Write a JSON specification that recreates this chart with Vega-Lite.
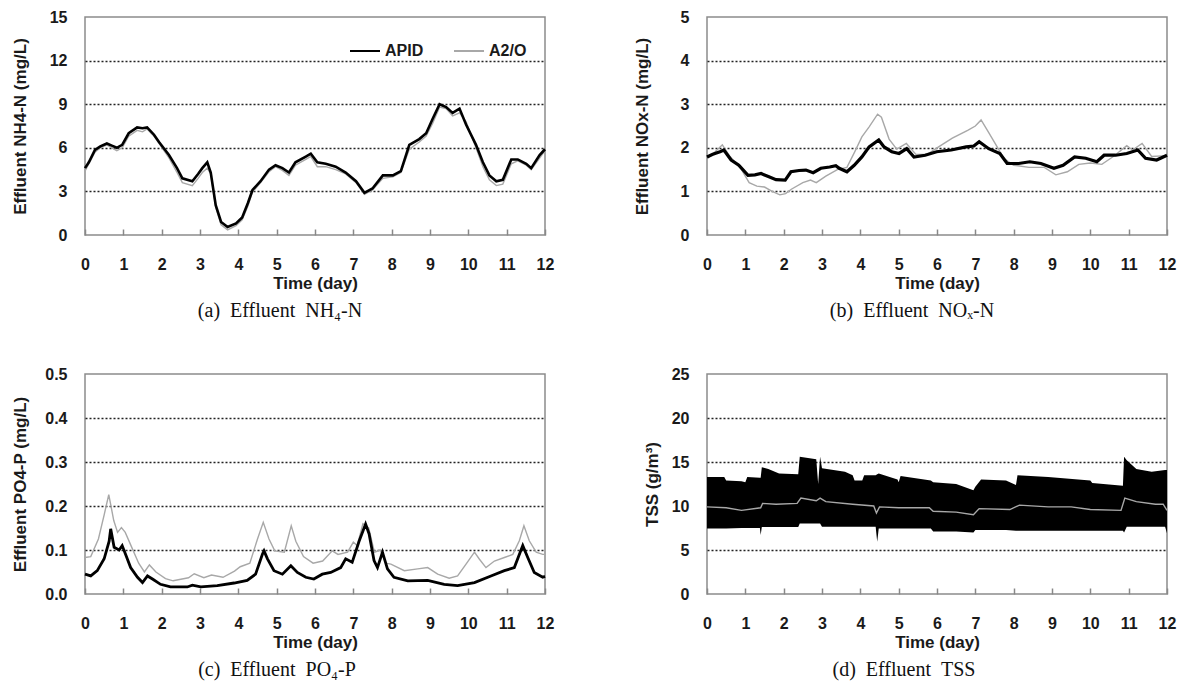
{
  "$schema": "https://vega.github.io/schema/vega-lite/v6.json",
  "background": "white",
  "padding": {"left": 10, "top": 8, "right": 5, "bottom": 5},
  "config": {
    "font": "Liberation Sans",
    "view": {"stroke": "#8c8c8c", "strokeWidth": 1.5},
    "axis": {
      "labelFont": "Liberation Sans", "labelFontSize": 16, "labelFontWeight": "bold", "labelColor": "#1a1a1a",
      "titleFont": "Liberation Sans", "titleFontSize": 17, "titleFontWeight": "bold", "titleColor": "#1a1a1a",
      "domain": false, "gridColor": "#222222", "gridDash": [2, 2], "gridWidth": 1.3, "labelFlush": false, "labelOverlap": false
    },
    "axisX": {"grid": false, "tickSize": -6, "tickColor": "#888888", "tickWidth": 1.5, "labelPadding": 27, "titlePadding": 3, "labelAngle": 0},
    "axisY": {"ticks": false, "labelPadding": 18, "titleX": -60, "titleBaseline": "alphabetic"},
    "title": {"orient": "bottom", "font": "Liberation Serif", "fontSize": 20, "fontWeight": "normal", "color": "#111111", "anchor": "middle", "offset": 10}
  },
  "datasets": {
    "nh4": [
      {"day": 0, "v": 4.6, "s": "APID"}, {"day": 0.1, "v": 5.0, "s": "APID"}, {"day": 0.26, "v": 5.85, "s": "APID"}, {"day": 0.4, "v": 6.1, "s": "APID"},
      {"day": 0.57, "v": 6.3, "s": "APID"}, {"day": 0.7, "v": 6.15, "s": "APID"}, {"day": 0.83, "v": 6.0, "s": "APID"}, {"day": 0.97, "v": 6.2, "s": "APID"},
      {"day": 1.14, "v": 7.0, "s": "APID"}, {"day": 1.36, "v": 7.4, "s": "APID"}, {"day": 1.5, "v": 7.35, "s": "APID"}, {"day": 1.62, "v": 7.4, "s": "APID"},
      {"day": 1.8, "v": 6.9, "s": "APID"}, {"day": 1.93, "v": 6.4, "s": "APID"}, {"day": 2.19, "v": 5.5, "s": "APID"}, {"day": 2.4, "v": 4.6, "s": "APID"},
      {"day": 2.54, "v": 3.9, "s": "APID"}, {"day": 2.8, "v": 3.7, "s": "APID"}, {"day": 2.95, "v": 4.2, "s": "APID"}, {"day": 3.06, "v": 4.6, "s": "APID"},
      {"day": 3.19, "v": 5.0, "s": "APID"}, {"day": 3.28, "v": 4.3, "s": "APID"}, {"day": 3.41, "v": 2.05, "s": "APID"}, {"day": 3.55, "v": 0.9, "s": "APID"},
      {"day": 3.72, "v": 0.55, "s": "APID"}, {"day": 3.94, "v": 0.8, "s": "APID"}, {"day": 4.1, "v": 1.2, "s": "APID"}, {"day": 4.25, "v": 2.2, "s": "APID"},
      {"day": 4.37, "v": 3.1, "s": "APID"}, {"day": 4.58, "v": 3.7, "s": "APID"}, {"day": 4.8, "v": 4.5, "s": "APID"}, {"day": 4.97, "v": 4.8, "s": "APID"},
      {"day": 5.15, "v": 4.6, "s": "APID"}, {"day": 5.32, "v": 4.3, "s": "APID"}, {"day": 5.49, "v": 5.0, "s": "APID"}, {"day": 5.76, "v": 5.4, "s": "APID"},
      {"day": 5.89, "v": 5.6, "s": "APID"}, {"day": 6.06, "v": 5.0, "s": "APID"}, {"day": 6.28, "v": 4.9, "s": "APID"}, {"day": 6.54, "v": 4.7, "s": "APID"},
      {"day": 6.8, "v": 4.3, "s": "APID"}, {"day": 7.07, "v": 3.7, "s": "APID"}, {"day": 7.29, "v": 2.9, "s": "APID"}, {"day": 7.5, "v": 3.2, "s": "APID"},
      {"day": 7.77, "v": 4.1, "s": "APID"}, {"day": 8.03, "v": 4.1, "s": "APID"}, {"day": 8.24, "v": 4.4, "s": "APID"}, {"day": 8.46, "v": 6.2, "s": "APID"},
      {"day": 8.72, "v": 6.6, "s": "APID"}, {"day": 8.9, "v": 7.0, "s": "APID"}, {"day": 9.07, "v": 8.0, "s": "APID"}, {"day": 9.25, "v": 9.0, "s": "APID"},
      {"day": 9.42, "v": 8.8, "s": "APID"}, {"day": 9.59, "v": 8.4, "s": "APID"}, {"day": 9.77, "v": 8.7, "s": "APID"}, {"day": 9.94, "v": 7.6, "s": "APID"},
      {"day": 10.2, "v": 6.2, "s": "APID"}, {"day": 10.38, "v": 5.0, "s": "APID"}, {"day": 10.55, "v": 4.1, "s": "APID"}, {"day": 10.73, "v": 3.7, "s": "APID"},
      {"day": 10.9, "v": 3.8, "s": "APID"}, {"day": 11.12, "v": 5.2, "s": "APID"}, {"day": 11.29, "v": 5.2, "s": "APID"}, {"day": 11.51, "v": 4.9, "s": "APID"},
      {"day": 11.64, "v": 4.6, "s": "APID"}, {"day": 11.86, "v": 5.5, "s": "APID"}, {"day": 12, "v": 5.9, "s": "APID"},
      {"day": 0, "v": 4.4, "s": "A2/O"}, {"day": 0.1, "v": 4.9, "s": "A2/O"}, {"day": 0.26, "v": 5.7, "s": "A2/O"}, {"day": 0.4, "v": 6.0, "s": "A2/O"},
      {"day": 0.57, "v": 6.2, "s": "A2/O"}, {"day": 0.7, "v": 6.0, "s": "A2/O"}, {"day": 0.83, "v": 5.8, "s": "A2/O"}, {"day": 0.97, "v": 6.0, "s": "A2/O"},
      {"day": 1.14, "v": 6.8, "s": "A2/O"}, {"day": 1.36, "v": 7.2, "s": "A2/O"}, {"day": 1.5, "v": 7.1, "s": "A2/O"}, {"day": 1.62, "v": 7.3, "s": "A2/O"},
      {"day": 1.8, "v": 6.8, "s": "A2/O"}, {"day": 1.93, "v": 6.3, "s": "A2/O"}, {"day": 2.19, "v": 5.3, "s": "A2/O"}, {"day": 2.4, "v": 4.3, "s": "A2/O"},
      {"day": 2.54, "v": 3.6, "s": "A2/O"}, {"day": 2.8, "v": 3.4, "s": "A2/O"}, {"day": 2.95, "v": 3.9, "s": "A2/O"}, {"day": 3.06, "v": 4.3, "s": "A2/O"},
      {"day": 3.19, "v": 4.6, "s": "A2/O"}, {"day": 3.28, "v": 4.2, "s": "A2/O"}, {"day": 3.41, "v": 1.9, "s": "A2/O"}, {"day": 3.55, "v": 0.7, "s": "A2/O"},
      {"day": 3.72, "v": 0.35, "s": "A2/O"}, {"day": 3.94, "v": 0.65, "s": "A2/O"}, {"day": 4.1, "v": 1.05, "s": "A2/O"}, {"day": 4.25, "v": 2.0, "s": "A2/O"},
      {"day": 4.37, "v": 2.95, "s": "A2/O"}, {"day": 4.58, "v": 3.6, "s": "A2/O"}, {"day": 4.8, "v": 4.35, "s": "A2/O"}, {"day": 4.97, "v": 4.7, "s": "A2/O"},
      {"day": 5.15, "v": 4.45, "s": "A2/O"}, {"day": 5.32, "v": 4.1, "s": "A2/O"}, {"day": 5.49, "v": 4.8, "s": "A2/O"}, {"day": 5.76, "v": 5.2, "s": "A2/O"},
      {"day": 5.89, "v": 5.4, "s": "A2/O"}, {"day": 6.06, "v": 4.7, "s": "A2/O"}, {"day": 6.28, "v": 4.7, "s": "A2/O"}, {"day": 6.54, "v": 4.5, "s": "A2/O"},
      {"day": 6.8, "v": 4.2, "s": "A2/O"}, {"day": 7.07, "v": 3.6, "s": "A2/O"}, {"day": 7.29, "v": 2.8, "s": "A2/O"}, {"day": 7.5, "v": 3.1, "s": "A2/O"},
      {"day": 7.77, "v": 3.9, "s": "A2/O"}, {"day": 8.03, "v": 4.0, "s": "A2/O"}, {"day": 8.24, "v": 4.3, "s": "A2/O"}, {"day": 8.46, "v": 5.9, "s": "A2/O"},
      {"day": 8.72, "v": 6.4, "s": "A2/O"}, {"day": 8.9, "v": 6.8, "s": "A2/O"}, {"day": 9.07, "v": 7.7, "s": "A2/O"}, {"day": 9.25, "v": 8.8, "s": "A2/O"},
      {"day": 9.42, "v": 8.7, "s": "A2/O"}, {"day": 9.59, "v": 8.2, "s": "A2/O"}, {"day": 9.77, "v": 8.4, "s": "A2/O"}, {"day": 9.94, "v": 7.8, "s": "A2/O"},
      {"day": 10.2, "v": 6.0, "s": "A2/O"}, {"day": 10.38, "v": 4.7, "s": "A2/O"}, {"day": 10.55, "v": 3.8, "s": "A2/O"}, {"day": 10.73, "v": 3.4, "s": "A2/O"},
      {"day": 10.9, "v": 3.5, "s": "A2/O"}, {"day": 11.12, "v": 4.9, "s": "A2/O"}, {"day": 11.29, "v": 5.1, "s": "A2/O"}, {"day": 11.51, "v": 4.8, "s": "A2/O"},
      {"day": 11.64, "v": 4.5, "s": "A2/O"}, {"day": 11.86, "v": 5.3, "s": "A2/O"}, {"day": 12, "v": 5.8, "s": "A2/O"}
    ],
    "nox": [
      {"day": 0, "v": 1.79, "s": "APID"}, {"day": 0.15, "v": 1.85, "s": "APID"}, {"day": 0.34, "v": 1.91, "s": "APID"}, {"day": 0.44, "v": 1.95, "s": "APID"},
      {"day": 0.63, "v": 1.72, "s": "APID"}, {"day": 0.83, "v": 1.6, "s": "APID"}, {"day": 1.07, "v": 1.37, "s": "APID"}, {"day": 1.25, "v": 1.38, "s": "APID"},
      {"day": 1.41, "v": 1.41, "s": "APID"}, {"day": 1.6, "v": 1.34, "s": "APID"}, {"day": 1.8, "v": 1.27, "s": "APID"}, {"day": 2.04, "v": 1.26, "s": "APID"},
      {"day": 2.19, "v": 1.45, "s": "APID"}, {"day": 2.4, "v": 1.48, "s": "APID"}, {"day": 2.58, "v": 1.49, "s": "APID"}, {"day": 2.77, "v": 1.43, "s": "APID"},
      {"day": 2.97, "v": 1.53, "s": "APID"}, {"day": 3.2, "v": 1.56, "s": "APID"}, {"day": 3.36, "v": 1.59, "s": "APID"}, {"day": 3.45, "v": 1.53, "s": "APID"},
      {"day": 3.65, "v": 1.45, "s": "APID"}, {"day": 3.84, "v": 1.6, "s": "APID"}, {"day": 4.04, "v": 1.79, "s": "APID"}, {"day": 4.23, "v": 2.02, "s": "APID"},
      {"day": 4.48, "v": 2.18, "s": "APID"}, {"day": 4.62, "v": 2.02, "s": "APID"}, {"day": 4.82, "v": 1.91, "s": "APID"}, {"day": 5.01, "v": 1.87, "s": "APID"},
      {"day": 5.21, "v": 1.98, "s": "APID"}, {"day": 5.4, "v": 1.79, "s": "APID"}, {"day": 5.69, "v": 1.83, "s": "APID"}, {"day": 5.99, "v": 1.91, "s": "APID"},
      {"day": 6.37, "v": 1.95, "s": "APID"}, {"day": 6.76, "v": 2.02, "s": "APID"}, {"day": 6.96, "v": 2.04, "s": "APID"}, {"day": 7.1, "v": 2.14, "s": "APID"},
      {"day": 7.35, "v": 1.98, "s": "APID"}, {"day": 7.64, "v": 1.87, "s": "APID"}, {"day": 7.83, "v": 1.64, "s": "APID"}, {"day": 8.13, "v": 1.64, "s": "APID"},
      {"day": 8.42, "v": 1.68, "s": "APID"}, {"day": 8.71, "v": 1.64, "s": "APID"}, {"day": 9.05, "v": 1.53, "s": "APID"}, {"day": 9.29, "v": 1.6, "s": "APID"},
      {"day": 9.59, "v": 1.79, "s": "APID"}, {"day": 9.88, "v": 1.76, "s": "APID"}, {"day": 10.17, "v": 1.68, "s": "APID"}, {"day": 10.36, "v": 1.83, "s": "APID"},
      {"day": 10.66, "v": 1.83, "s": "APID"}, {"day": 10.95, "v": 1.87, "s": "APID"}, {"day": 11.24, "v": 1.95, "s": "APID"}, {"day": 11.44, "v": 1.76, "s": "APID"},
      {"day": 11.73, "v": 1.72, "s": "APID"}, {"day": 12, "v": 1.83, "s": "APID"},
      {"day": 0, "v": 1.75, "s": "A2/O"}, {"day": 0.2, "v": 1.9, "s": "A2/O"}, {"day": 0.4, "v": 2.07, "s": "A2/O"}, {"day": 0.6, "v": 1.8, "s": "A2/O"},
      {"day": 0.9, "v": 1.5, "s": "A2/O"}, {"day": 1.1, "v": 1.2, "s": "A2/O"}, {"day": 1.3, "v": 1.12, "s": "A2/O"}, {"day": 1.5, "v": 1.1, "s": "A2/O"},
      {"day": 1.7, "v": 1.0, "s": "A2/O"}, {"day": 1.9, "v": 0.92, "s": "A2/O"}, {"day": 2.05, "v": 0.95, "s": "A2/O"}, {"day": 2.2, "v": 1.05, "s": "A2/O"},
      {"day": 2.5, "v": 1.2, "s": "A2/O"}, {"day": 2.7, "v": 1.26, "s": "A2/O"}, {"day": 2.85, "v": 1.2, "s": "A2/O"}, {"day": 3.1, "v": 1.35, "s": "A2/O"},
      {"day": 3.4, "v": 1.5, "s": "A2/O"}, {"day": 3.65, "v": 1.55, "s": "A2/O"}, {"day": 3.85, "v": 1.9, "s": "A2/O"}, {"day": 4.04, "v": 2.25, "s": "A2/O"},
      {"day": 4.23, "v": 2.48, "s": "A2/O"}, {"day": 4.45, "v": 2.77, "s": "A2/O"}, {"day": 4.55, "v": 2.7, "s": "A2/O"}, {"day": 4.75, "v": 2.2, "s": "A2/O"},
      {"day": 4.95, "v": 1.97, "s": "A2/O"}, {"day": 5.2, "v": 2.1, "s": "A2/O"}, {"day": 5.45, "v": 1.85, "s": "A2/O"}, {"day": 5.75, "v": 1.85, "s": "A2/O"},
      {"day": 6.0, "v": 2.0, "s": "A2/O"}, {"day": 6.4, "v": 2.22, "s": "A2/O"}, {"day": 6.8, "v": 2.4, "s": "A2/O"}, {"day": 7.0, "v": 2.5, "s": "A2/O"},
      {"day": 7.15, "v": 2.64, "s": "A2/O"}, {"day": 7.35, "v": 2.35, "s": "A2/O"}, {"day": 7.55, "v": 2.05, "s": "A2/O"}, {"day": 7.75, "v": 1.75, "s": "A2/O"},
      {"day": 8.0, "v": 1.6, "s": "A2/O"}, {"day": 8.4, "v": 1.55, "s": "A2/O"}, {"day": 8.8, "v": 1.55, "s": "A2/O"}, {"day": 9.1, "v": 1.38, "s": "A2/O"},
      {"day": 9.4, "v": 1.45, "s": "A2/O"}, {"day": 9.7, "v": 1.62, "s": "A2/O"}, {"day": 10.0, "v": 1.65, "s": "A2/O"}, {"day": 10.3, "v": 1.62, "s": "A2/O"},
      {"day": 10.6, "v": 1.8, "s": "A2/O"}, {"day": 10.95, "v": 2.05, "s": "A2/O"}, {"day": 11.1, "v": 1.95, "s": "A2/O"}, {"day": 11.35, "v": 2.1, "s": "A2/O"},
      {"day": 11.6, "v": 1.8, "s": "A2/O"}, {"day": 12, "v": 1.82, "s": "A2/O"}
    ],
    "po4": [
      {"day": 0, "v": 0.045, "s": "APID"}, {"day": 0.15, "v": 0.041, "s": "APID"}, {"day": 0.32, "v": 0.053, "s": "APID"}, {"day": 0.5, "v": 0.08, "s": "APID"},
      {"day": 0.63, "v": 0.12, "s": "APID"}, {"day": 0.67, "v": 0.148, "s": "APID"}, {"day": 0.76, "v": 0.106, "s": "APID"}, {"day": 0.89, "v": 0.1, "s": "APID"},
      {"day": 0.97, "v": 0.11, "s": "APID"}, {"day": 1.06, "v": 0.09, "s": "APID"}, {"day": 1.19, "v": 0.06, "s": "APID"}, {"day": 1.37, "v": 0.038, "s": "APID"},
      {"day": 1.5, "v": 0.026, "s": "APID"}, {"day": 1.63, "v": 0.041, "s": "APID"}, {"day": 1.76, "v": 0.034, "s": "APID"}, {"day": 1.97, "v": 0.022, "s": "APID"},
      {"day": 2.23, "v": 0.016, "s": "APID"}, {"day": 2.67, "v": 0.016, "s": "APID"}, {"day": 2.8, "v": 0.02, "s": "APID"}, {"day": 3.02, "v": 0.016, "s": "APID"},
      {"day": 3.45, "v": 0.019, "s": "APID"}, {"day": 3.89, "v": 0.025, "s": "APID"}, {"day": 4.23, "v": 0.031, "s": "APID"}, {"day": 4.45, "v": 0.045, "s": "APID"},
      {"day": 4.63, "v": 0.091, "s": "APID"}, {"day": 4.67, "v": 0.098, "s": "APID"}, {"day": 4.76, "v": 0.08, "s": "APID"}, {"day": 4.93, "v": 0.053, "s": "APID"},
      {"day": 5.15, "v": 0.045, "s": "APID"}, {"day": 5.37, "v": 0.064, "s": "APID"}, {"day": 5.54, "v": 0.049, "s": "APID"}, {"day": 5.76, "v": 0.038, "s": "APID"},
      {"day": 5.97, "v": 0.034, "s": "APID"}, {"day": 6.19, "v": 0.045, "s": "APID"}, {"day": 6.41, "v": 0.049, "s": "APID"}, {"day": 6.67, "v": 0.06, "s": "APID"},
      {"day": 6.8, "v": 0.08, "s": "APID"}, {"day": 6.97, "v": 0.072, "s": "APID"}, {"day": 7.15, "v": 0.12, "s": "APID"}, {"day": 7.32, "v": 0.159, "s": "APID"},
      {"day": 7.41, "v": 0.137, "s": "APID"}, {"day": 7.54, "v": 0.076, "s": "APID"}, {"day": 7.63, "v": 0.06, "s": "APID"}, {"day": 7.76, "v": 0.095, "s": "APID"},
      {"day": 7.89, "v": 0.057, "s": "APID"}, {"day": 8.06, "v": 0.038, "s": "APID"}, {"day": 8.42, "v": 0.03, "s": "APID"}, {"day": 8.94, "v": 0.031, "s": "APID"},
      {"day": 9.37, "v": 0.022, "s": "APID"}, {"day": 9.72, "v": 0.019, "s": "APID"}, {"day": 10.16, "v": 0.026, "s": "APID"}, {"day": 10.59, "v": 0.041, "s": "APID"},
      {"day": 10.94, "v": 0.053, "s": "APID"}, {"day": 11.2, "v": 0.06, "s": "APID"}, {"day": 11.42, "v": 0.11, "s": "APID"}, {"day": 11.55, "v": 0.083, "s": "APID"},
      {"day": 11.72, "v": 0.049, "s": "APID"}, {"day": 11.94, "v": 0.038, "s": "APID"}, {"day": 12, "v": 0.04, "s": "APID"},
      {"day": 0, "v": 0.083, "s": "A2/O"}, {"day": 0.15, "v": 0.085, "s": "A2/O"}, {"day": 0.35, "v": 0.125, "s": "A2/O"}, {"day": 0.5, "v": 0.18, "s": "A2/O"},
      {"day": 0.62, "v": 0.226, "s": "A2/O"}, {"day": 0.75, "v": 0.167, "s": "A2/O"}, {"day": 0.85, "v": 0.14, "s": "A2/O"}, {"day": 0.95, "v": 0.151, "s": "A2/O"},
      {"day": 1.05, "v": 0.14, "s": "A2/O"}, {"day": 1.2, "v": 0.11, "s": "A2/O"}, {"day": 1.4, "v": 0.07, "s": "A2/O"}, {"day": 1.55, "v": 0.05, "s": "A2/O"},
      {"day": 1.68, "v": 0.066, "s": "A2/O"}, {"day": 1.85, "v": 0.05, "s": "A2/O"}, {"day": 2.1, "v": 0.035, "s": "A2/O"}, {"day": 2.3, "v": 0.03, "s": "A2/O"},
      {"day": 2.7, "v": 0.037, "s": "A2/O"}, {"day": 2.85, "v": 0.046, "s": "A2/O"}, {"day": 3.1, "v": 0.037, "s": "A2/O"}, {"day": 3.3, "v": 0.043, "s": "A2/O"},
      {"day": 3.6, "v": 0.038, "s": "A2/O"}, {"day": 3.9, "v": 0.052, "s": "A2/O"}, {"day": 4.05, "v": 0.062, "s": "A2/O"}, {"day": 4.3, "v": 0.07, "s": "A2/O"},
      {"day": 4.5, "v": 0.125, "s": "A2/O"}, {"day": 4.65, "v": 0.163, "s": "A2/O"}, {"day": 4.8, "v": 0.125, "s": "A2/O"}, {"day": 4.95, "v": 0.098, "s": "A2/O"},
      {"day": 5.2, "v": 0.095, "s": "A2/O"}, {"day": 5.38, "v": 0.155, "s": "A2/O"}, {"day": 5.5, "v": 0.12, "s": "A2/O"}, {"day": 5.7, "v": 0.085, "s": "A2/O"},
      {"day": 5.95, "v": 0.07, "s": "A2/O"}, {"day": 6.2, "v": 0.075, "s": "A2/O"}, {"day": 6.45, "v": 0.098, "s": "A2/O"}, {"day": 6.6, "v": 0.09, "s": "A2/O"},
      {"day": 6.85, "v": 0.095, "s": "A2/O"}, {"day": 7.0, "v": 0.118, "s": "A2/O"}, {"day": 7.1, "v": 0.11, "s": "A2/O"}, {"day": 7.25, "v": 0.16, "s": "A2/O"},
      {"day": 7.4, "v": 0.15, "s": "A2/O"}, {"day": 7.55, "v": 0.095, "s": "A2/O"}, {"day": 7.7, "v": 0.1, "s": "A2/O"}, {"day": 7.85, "v": 0.07, "s": "A2/O"},
      {"day": 7.98, "v": 0.068, "s": "A2/O"}, {"day": 8.33, "v": 0.053, "s": "A2/O"}, {"day": 8.68, "v": 0.057, "s": "A2/O"}, {"day": 8.94, "v": 0.06, "s": "A2/O"},
      {"day": 9.2, "v": 0.045, "s": "A2/O"}, {"day": 9.5, "v": 0.036, "s": "A2/O"}, {"day": 9.72, "v": 0.041, "s": "A2/O"}, {"day": 9.94, "v": 0.068, "s": "A2/O"},
      {"day": 10.16, "v": 0.095, "s": "A2/O"}, {"day": 10.29, "v": 0.079, "s": "A2/O"}, {"day": 10.46, "v": 0.06, "s": "A2/O"}, {"day": 10.68, "v": 0.075, "s": "A2/O"},
      {"day": 10.94, "v": 0.083, "s": "A2/O"}, {"day": 11.16, "v": 0.09, "s": "A2/O"}, {"day": 11.33, "v": 0.121, "s": "A2/O"}, {"day": 11.45, "v": 0.155, "s": "A2/O"},
      {"day": 11.59, "v": 0.121, "s": "A2/O"}, {"day": 11.77, "v": 0.095, "s": "A2/O"}, {"day": 11.94, "v": 0.09, "s": "A2/O"}, {"day": 12, "v": 0.09, "s": "A2/O"}
    ],
    "tssband": [
      {"day": 0, "lo": 7.45, "hi": 13.3}, {"day": 0.45, "lo": 7.45, "hi": 13.3}, {"day": 0.5, "lo": 7.45, "hi": 12.9}, {"day": 0.9, "lo": 7.5, "hi": 12.8},
      {"day": 1.0, "lo": 7.5, "hi": 12.7}, {"day": 1.05, "lo": 7.5, "hi": 13.3}, {"day": 1.38, "lo": 7.5, "hi": 13.2}, {"day": 1.4, "lo": 6.7, "hi": 13.2},
      {"day": 1.43, "lo": 7.6, "hi": 14.4}, {"day": 1.6, "lo": 7.6, "hi": 14.2}, {"day": 1.88, "lo": 7.6, "hi": 13.7}, {"day": 2.38, "lo": 7.6, "hi": 13.6},
      {"day": 2.42, "lo": 8.0, "hi": 15.6}, {"day": 2.85, "lo": 8.0, "hi": 15.3}, {"day": 2.9, "lo": 8.0, "hi": 12.5}, {"day": 2.95, "lo": 8.0, "hi": 15.6},
      {"day": 3.0, "lo": 7.65, "hi": 14.3}, {"day": 3.6, "lo": 7.65, "hi": 13.9}, {"day": 3.8, "lo": 7.65, "hi": 13.5}, {"day": 3.85, "lo": 7.65, "hi": 12.9},
      {"day": 4.05, "lo": 7.65, "hi": 12.9}, {"day": 4.1, "lo": 7.65, "hi": 13.5}, {"day": 4.4, "lo": 7.65, "hi": 13.5}, {"day": 4.44, "lo": 5.95, "hi": 13.6},
      {"day": 4.48, "lo": 7.45, "hi": 13.7}, {"day": 4.97, "lo": 7.45, "hi": 13.0}, {"day": 5.0, "lo": 7.45, "hi": 12.7}, {"day": 5.05, "lo": 7.45, "hi": 13.4},
      {"day": 5.84, "lo": 7.45, "hi": 12.9}, {"day": 5.9, "lo": 7.1, "hi": 12.7}, {"day": 6.5, "lo": 7.1, "hi": 12.5}, {"day": 6.95, "lo": 7.0, "hi": 11.8},
      {"day": 7.0, "lo": 7.26, "hi": 12.2}, {"day": 7.15, "lo": 7.26, "hi": 13.0}, {"day": 7.8, "lo": 7.26, "hi": 12.9}, {"day": 8.06, "lo": 7.2, "hi": 12.4},
      {"day": 8.1, "lo": 7.2, "hi": 13.5}, {"day": 8.9, "lo": 7.2, "hi": 13.3}, {"day": 10.0, "lo": 7.2, "hi": 12.9}, {"day": 10.05, "lo": 7.2, "hi": 12.6},
      {"day": 10.85, "lo": 7.2, "hi": 12.3}, {"day": 10.88, "lo": 7.0, "hi": 15.6}, {"day": 10.95, "lo": 7.65, "hi": 15.2}, {"day": 11.2, "lo": 7.65, "hi": 14.2},
      {"day": 11.6, "lo": 7.65, "hi": 13.9}, {"day": 11.95, "lo": 7.65, "hi": 14.1}, {"day": 12, "lo": 6.9, "hi": 14.1}
    ],
    "tssa2o": [
      {"day": 0, "v": 9.9}, {"day": 0.5, "v": 9.8}, {"day": 0.9, "v": 9.5}, {"day": 1.4, "v": 9.8}, {"day": 1.45, "v": 10.3}, {"day": 1.8, "v": 10.2},
      {"day": 2.35, "v": 10.3}, {"day": 2.45, "v": 10.9}, {"day": 2.85, "v": 10.6}, {"day": 2.95, "v": 10.9}, {"day": 3.1, "v": 10.5}, {"day": 3.8, "v": 10.2},
      {"day": 4.35, "v": 10.0}, {"day": 4.42, "v": 9.2}, {"day": 4.5, "v": 9.9}, {"day": 5.0, "v": 9.8}, {"day": 5.8, "v": 9.8}, {"day": 5.9, "v": 9.4},
      {"day": 6.5, "v": 9.3}, {"day": 6.95, "v": 9.0}, {"day": 7.1, "v": 9.7}, {"day": 7.9, "v": 9.6}, {"day": 8.15, "v": 10.1}, {"day": 8.9, "v": 9.9},
      {"day": 9.5, "v": 9.9}, {"day": 10.0, "v": 9.6}, {"day": 10.8, "v": 9.5}, {"day": 10.9, "v": 10.9}, {"day": 11.2, "v": 10.5}, {"day": 11.7, "v": 10.2},
      {"day": 11.9, "v": 10.2}, {"day": 12, "v": 9.5}
    ]
  },
  "columns": 2,
  "bounds": "flush",
  "spacing": {"row": 139, "column": 162},
  "resolve": {"scale": {"color": "independent"}, "legend": {"color": "independent"}},
  "concat": [
    {
      "width": 460, "height": 218,
      "title": {"text": "(a)\u00a0\u00a0Effluent\u00a0\u00a0NH₄-N", "dx": -35},
      "data": {"name": "nh4"},
      "encoding": {
        "x": {"field": "day", "type": "quantitative", "scale": {"domain": [0, 12], "nice": false}, "axis": {"values": [0,1,2,3,4,5,6,7,8,9,10,11,12], "format": "d", "title": "Time (day)"}},
        "y": {"field": "v", "type": "quantitative", "scale": {"domain": [0, 15], "nice": false}, "axis": {"values": [0,3,6,9,12,15], "title": "Effluent NH4-N (mg/L)", "gridOpacity": {"condition": {"test": "datum.value <= 0 || datum.value >= 15", "value": 0}, "value": 1}}},
        "color": {"field": "s", "type": "nominal", "scale": {"domain": ["APID", "A2/O"], "range": ["#000000", "#a8a8a8"]},
          "legend": {"title": null, "orient": "top-right", "direction": "horizontal", "offset": 18, "symbolType": "stroke", "symbolSize": 900, "symbolStrokeWidth": 2, "labelFontSize": 16, "labelFontWeight": "bold", "labelFont": "Liberation Sans", "labelColor": "#1a1a1a", "columnPadding": 26, "labelOffset": 4, "padding": 0}}
      },
      "layer": [
        {"transform": [{"filter": "datum.s == 'A2/O'"}], "mark": {"type": "line", "strokeWidth": 1.4}},
        {"transform": [{"filter": "datum.s == 'APID'"}], "mark": {"type": "line", "strokeWidth": 2.6}}
      ]
    },
    {
      "width": 460, "height": 218,
      "title": {"text": "(b)\u00a0\u00a0Effluent\u00a0\u00a0NOₓ-N", "dx": -25},
      "data": {"name": "nox"},
      "encoding": {
        "x": {"field": "day", "type": "quantitative", "scale": {"domain": [0, 12], "nice": false}, "axis": {"values": [0,1,2,3,4,5,6,7,8,9,10,11,12], "format": "d", "title": "Time (day)"}},
        "y": {"field": "v", "type": "quantitative", "scale": {"domain": [0, 5], "nice": false}, "axis": {"values": [0,1,2,3,4,5], "title": "Effluent NOx-N (mg/L)", "gridOpacity": {"condition": {"test": "datum.value <= 0 || datum.value >= 5", "value": 0}, "value": 1}}}
      },
      "layer": [
        {"transform": [{"filter": "datum.s == 'A2/O'"}], "mark": {"type": "line", "strokeWidth": 1.4, "color": "#a8a8a8"}},
        {"transform": [{"filter": "datum.s == 'APID'"}], "mark": {"type": "line", "strokeWidth": 3.2, "color": "#000000"}}
      ]
    },
    {
      "width": 460, "height": 220,
      "title": {"text": "(c)\u00a0\u00a0Effluent\u00a0\u00a0PO₄-P", "dx": -38},
      "data": {"name": "po4"},
      "encoding": {
        "x": {"field": "day", "type": "quantitative", "scale": {"domain": [0, 12], "nice": false}, "axis": {"values": [0,1,2,3,4,5,6,7,8,9,10,11,12], "format": "d", "title": "Time (day)"}},
        "y": {"field": "v", "type": "quantitative", "scale": {"domain": [0, 0.5], "nice": false}, "axis": {"values": [0,0.1,0.2,0.3,0.4,0.5], "format": ".1f", "title": "Effluent PO4-P (mg/L)", "gridOpacity": {"condition": {"test": "datum.value <= 0.001 || datum.value >= 0.499", "value": 0}, "value": 1}}}
      },
      "layer": [
        {"transform": [{"filter": "datum.s == 'A2/O'"}], "mark": {"type": "line", "strokeWidth": 1.4, "color": "#a8a8a8"}},
        {"transform": [{"filter": "datum.s == 'APID'"}], "mark": {"type": "line", "strokeWidth": 2.8, "color": "#000000"}}
      ]
    },
    {
      "width": 460, "height": 220,
      "title": {"text": "(d)\u00a0\u00a0Effluent\u00a0\u00a0TSS", "dx": -33},
      "layer": [
        {
          "data": {"name": "tssband"},
          "mark": {"type": "area", "color": "#000000", "opacity": 1},
          "encoding": {
            "x": {"field": "day", "type": "quantitative", "scale": {"domain": [0, 12], "nice": false}, "axis": {"values": [0,1,2,3,4,5,6,7,8,9,10,11,12], "format": "d", "title": "Time (day)"}},
            "y": {"field": "hi", "type": "quantitative", "scale": {"domain": [0, 25], "nice": false}, "axis": {"values": [0,5,10,15,20,25], "title": "TSS (g/m³)", "titleX": -50, "gridOpacity": {"condition": {"test": "datum.value <= 0 || datum.value >= 25", "value": 0}, "value": 1}}},
            "y2": {"field": "lo"}
          }
        },
        {
          "data": {"name": "tssa2o"},
          "mark": {"type": "line", "strokeWidth": 1.4, "color": "#a8a8a8"},
          "encoding": {
            "x": {"field": "day", "type": "quantitative", "axis": {"values": [0,1,2,3,4,5,6,7,8,9,10,11,12], "format": "d", "title": "Time (day)"}},
            "y": {"field": "v", "type": "quantitative", "axis": {"values": [0,5,10,15,20,25], "title": "TSS (g/m³)", "titleX": -50, "gridOpacity": {"condition": {"test": "datum.value <= 0 || datum.value >= 25", "value": 0}, "value": 1}}}
          }
        }
      ]
    }
  ]
}
